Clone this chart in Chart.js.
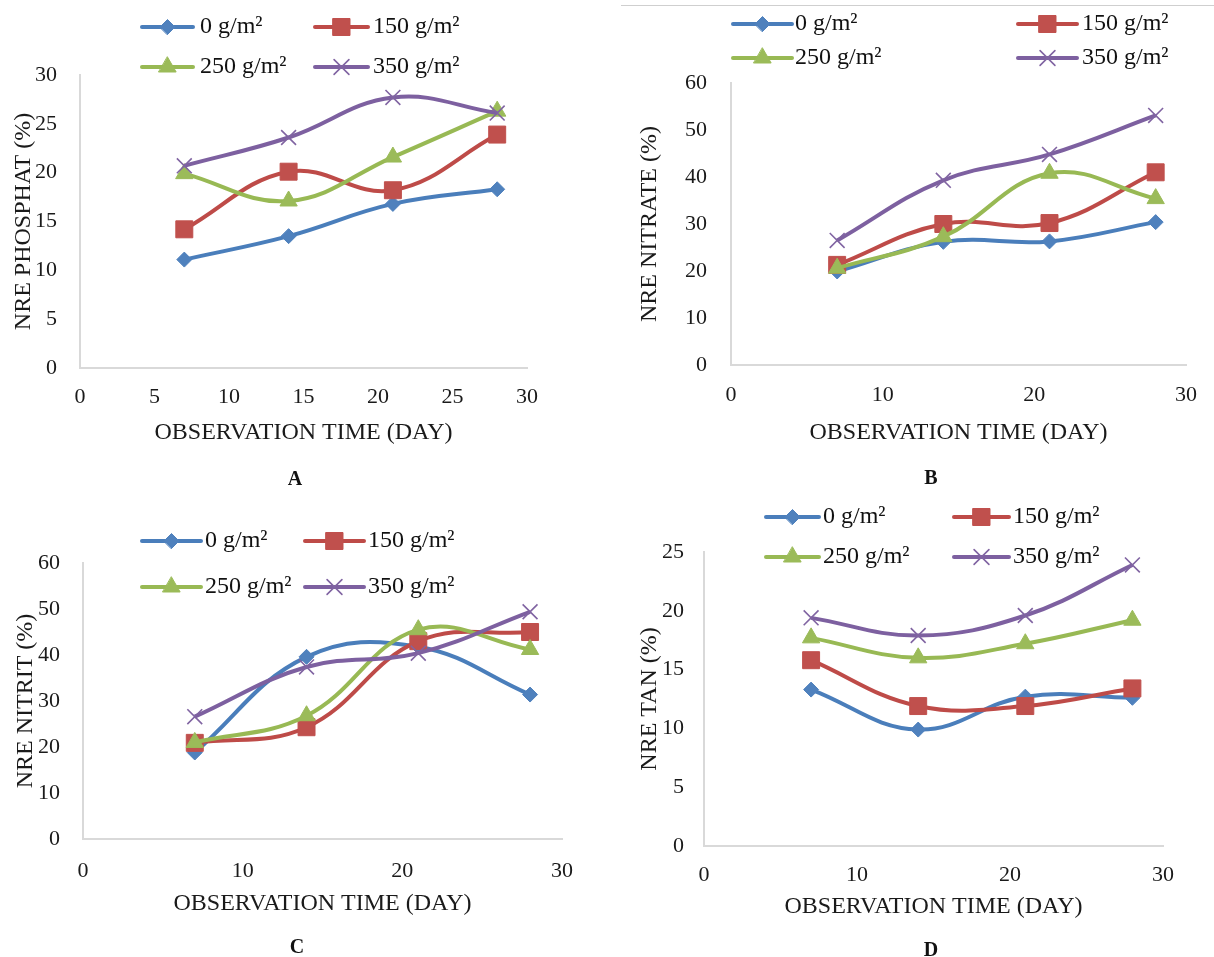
<!DOCTYPE html>
<html>
<head>
<meta charset="utf-8">
<script src="https://cdn.jsdelivr.net/npm/chart.js@4.4.1/dist/chart.umd.min.js"></script>
<style>
  body { margin: 0; background: #fff; width: 1214px; height: 957px; position: relative; overflow: hidden; font-family: "Liberation Serif", "Times New Roman", serif; }
  canvas { position: absolute; }
  .tag { position: absolute; font-weight: bold; font-size: 20px; color: #111; transform: translate(-50%, -50%); }
  .rule { position: absolute; left: 621px; top: 5px; width: 593px; border-top: 1px solid #cfcfcf; }
</style>
</head>
<body>
<div class="rule"></div>
<canvas id="chartA" width="607" height="478" style="left:0;top:0"></canvas>
<canvas id="chartB" width="607" height="478" style="left:607px;top:0"></canvas>
<canvas id="chartC" width="607" height="479" style="left:0;top:478px"></canvas>
<canvas id="chartD" width="607" height="479" style="left:607px;top:478px"></canvas>
<div class="tag" style="left:295px;top:478px">A</div>
<div class="tag" style="left:931px;top:477px">B</div>
<div class="tag" style="left:297px;top:946px">C</div>
<div class="tag" style="left:931px;top:949px">D</div>
<script>
// observation days and dose labels
const days = [7, 14, 21, 28];
const doseLabels = ['0 g/m²', '150 g/m²', '250 g/m²', '350 g/m²'];

// A - NRE phosphat (%)
const phosphat0 = [11.1, 13.5, 16.8, 18.3];
const phosphat150 = [14.2, 20.1, 18.2, 23.9];
const phosphat250 = [19.9, 17.1, 21.6, 26.3];
const phosphat350 = [20.7, 23.6, 27.7, 26.1];

// B - NRE nitrate (%)
const nitrate0 = [19.9, 26.2, 26.3, 30.4];
const nitrate150 = [21.3, 30.0, 30.2, 41.0];
const nitrate250 = [20.6, 27.3, 40.8, 35.4];
const nitrate350 = [26.5, 39.3, 44.8, 53.1];

// C - NRE nitrit (%)
const nitrit0 = [18.8, 39.6, 41.8, 31.4];
const nitrit150 = [20.9, 24.3, 43.0, 45.0];
const nitrit250 = [21.0, 26.8, 45.5, 41.2];
const nitrit350 = [26.6, 37.4, 40.4, 49.4];

// D - NRE TAN (%)
const tan0 = [13.3, 9.9, 12.7, 12.6];
const tan150 = [15.8, 11.9, 11.9, 13.4];
const tan250 = [17.7, 16.0, 17.2, 19.2];
const tan350 = [19.4, 17.9, 19.6, 23.9];

// excel-ish look per series
const looks = [
    { line: '#4A7EBB', mark: '#4F81BD', style: 'rectRot', r: 7.5, bw: 1 },
    { line: '#BE4B48', mark: '#C0504D', style: 'rect', r: 12, bw: 1 },
    { line: '#98B954', mark: '#9BBB59', style: 'triangle', r: 10, bw: 1 },
    { line: '#7D60A0', mark: '#8064A2', style: 'crossRot', r: 10.5, bw: 1.6 }
];

const serif = '"Liberation Serif", "Times New Roman", serif';

// legend drawn as two rows of two, like the excel one
const pairLegend = {
    id: 'pairLegend',
    afterDraw(chart, args, opts) {
        const ctx = chart.ctx;
        ctx.save();
        chart.data.datasets.forEach((ds, i) => {
            const y = opts.rows[Math.floor(i / 2)];
            const col = opts.cols[i % 2];
            ctx.strokeStyle = ds.borderColor;
            ctx.lineWidth = ds.borderWidth;
            ctx.lineCap = 'round';
            ctx.beginPath();
            ctx.moveTo(col[0], y);
            ctx.lineTo(col[1], y);
            ctx.stroke();
            ctx.fillStyle = ds.pointBackgroundColor;
            ctx.strokeStyle = ds.pointBorderColor;
            ctx.lineWidth = ds.pointBorderWidth;
            Chart.helpers.drawPoint(ctx, {
                pointStyle: ds.pointStyle, radius: ds.pointRadius, rotation: 0, borderWidth: ds.pointBorderWidth
            }, (col[0] + col[1]) / 2, y);
            ctx.fillStyle = '#111';
            ctx.font = '24px ' + serif;
            ctx.textAlign = 'left';
            ctx.textBaseline = 'middle';
            ctx.fillText(ds.label, col[2], y);
        });
        ctx.restore();
    }
};

function makeDatasets(seriesList) {
    return seriesList.map((vals, i) => {
        const lk = looks[i];
        return {
            label: doseLabels[i],
            data: days.map((d, j) => ({ x: d, y: vals[j] })),
            borderColor: lk.line,
            borderWidth: 4,
            tension: 0.4,
            pointStyle: lk.style,
            pointRadius: lk.r,
            pointHoverRadius: lk.r,
            pointBackgroundColor: lk.mark,
            pointBorderColor: lk.mark,
            pointBorderWidth: lk.bw,
            order: 3 - i
        };
    });
}

function drawPanel(id, seriesList, yTitle, yMax, yStep, xStep, box) {
    new Chart(document.getElementById(id), {
        type: 'line',
        data: { datasets: makeDatasets(seriesList) },
        plugins: [pairLegend],
        options: {
            responsive: false,
            animation: false,
            devicePixelRatio: 1,
            layout: { padding: box.pad },
            plugins: {
                legend: { display: false },
                tooltip: { enabled: false },
                pairLegend: box.legend
            },
            scales: {
                x: {
                    type: 'linear',
                    min: 0, max: 30,
                    grid: { display: false, drawTicks: false },
                    border: { display: true, color: '#d9d9d9', width: 2 },
                    ticks: { stepSize: xStep, padding: box.xTickPad, color: '#1a1a1a', font: { family: serif, size: 22 }, maxRotation: 0 },
                    title: { display: true, text: 'OBSERVATION TIME (DAY)', color: '#1a1a1a', font: { family: serif, size: 24 }, padding: 0 },
                    afterFit: (scale) => { scale.height = box.xH; }
                },
                y: {
                    min: 0, max: yMax,
                    grid: { display: false, drawTicks: false },
                    border: { display: true, color: '#d9d9d9', width: 2 },
                    ticks: { stepSize: yStep, padding: box.yTickPad, color: '#1a1a1a', font: { family: serif, size: 22 } },
                    title: { display: true, text: yTitle, color: '#1a1a1a', font: { family: serif, size: 24 }, padding: 0 },
                    afterFit: (scale) => { scale.width = box.yW; }
                }
            }
        }
    });
}

drawPanel('chartA', [phosphat0, phosphat150, phosphat250, phosphat350], 'NRE PHOSPHAT (%)', 30, 5, 5, {
    pad: { left: 9, top: 75, right: 80, bottom: 31 }, yW: 71, xH: 79, xTickPad: 16, yTickPad: 23,
    legend: { rows: [27, 67], cols: [[142, 193, 200], [315, 368, 373]] }
});
drawPanel('chartB', [nitrate0, nitrate150, nitrate250, nitrate350], 'NRE NITRATE (%)', 60, 10, 10, {
    pad: { left: 28, top: 83, right: 16, bottom: 31 }, yW: 96, xH: 82, xTickPad: 17, yTickPad: 24,
    legend: { rows: [24, 58], cols: [[126, 185, 188], [411, 470, 475]] }
});
drawPanel('chartC', [nitrit0, nitrit150, nitrit250, nitrit350], 'NRE NITRIT (%)', 60, 10, 10, {
    pad: { left: 11, top: 85, right: 45, bottom: 39 }, yW: 72, xH: 79, xTickPad: 19, yTickPad: 23,
    legend: { rows: [63, 109], cols: [[142, 201, 205], [305, 364, 368]] }
});
drawPanel('chartD', [tan0, tan150, tan250, tan350], 'NRE TAN (%)', 25, 5, 10, {
    pad: { left: 28, top: 74, right: 51, bottom: 36 }, yW: 69, xH: 75, xTickPad: 16, yTickPad: 20,
    legend: { rows: [39, 79], cols: [[159, 212, 216], [347, 402, 406]] }
});
</script>
</body>
</html>
